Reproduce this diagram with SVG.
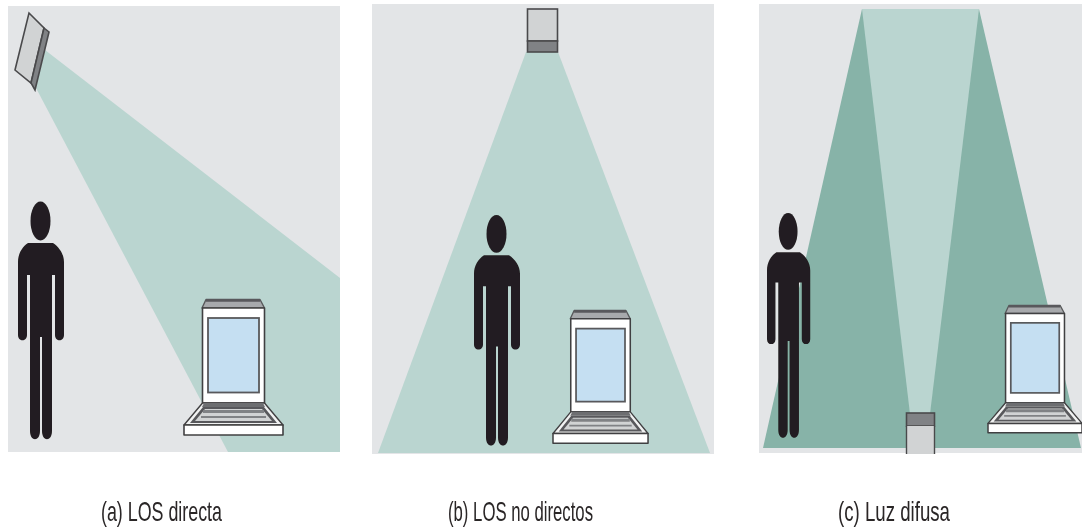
<svg xmlns="http://www.w3.org/2000/svg" width="1082" height="528" viewBox="0 0 1082 528">
<style>
.room{fill:#e3e5e7}
.beam{fill:#bad5d0}
.beamd{fill:#87b3a8}
.cap{font-family:"Liberation Sans",Arial,sans-serif;font-size:28px;fill:#2a2627}
.body{fill:#231f20}
.e1{fill:#d1d3d4;stroke:#4a4a4c;stroke-width:1.6}
.e2{fill:#808285;stroke:#4a4a4c;stroke-width:1.6}
.lw{fill:#fff;stroke:#414042;stroke-width:1.6;stroke-linejoin:round}
.lg{fill:#a7a9ac;stroke:#58595b;stroke-width:1.4;stroke-linejoin:round}
.scr{fill:#c5dff2;stroke:#58595b;stroke-width:1.8}
.key{fill:#f1f2f2;stroke:#414042;stroke-width:1.4;stroke-linejoin:round}
.kb{fill:#6d6e71}
</style>
<defs>
<filter id="soft" x="0" y="0" width="100%" height="100%"><feGaussianBlur stdDeviation="0.45"/></filter>
<g id="person">
<ellipse class="body" cx="40.5" cy="221" rx="10" ry="19.5"/>
<path class="body" d="M28 243H53C59 247 64 254 64 262V335C64 342 55 342 55 335V275H52V431C52 442 42 442 42 431V337H40V431C40 442 30 442 30 431V275H27V335C27 342 18 342 18 335V262C18 254 22 247 28 243Z"/>
</g>
<g id="laptop">
<path class="lg" d="M206 299.500H260L264.500 308H202Z"/>
<path d="M206 300.500H260" stroke="#58595b" stroke-width="2.500" fill="none"/>
<rect class="lw" x="202.500" y="308" width="62" height="95"/>
<rect class="scr" x="208" y="318" width="51" height="74.500"/>
<path class="key" d="M202.500 403H264.500L283 425H184Z"/>
<path class="kb" d="M204 403H263L265 407H202Z"/>
<path d="M203 407H264L277 423H190Z" fill="#58595b"/>
<path d="M205 409H262L272 421H195Z" fill="#d1d3d4"/>
<path d="M203 411.500H264" stroke="#808285" stroke-width="3" fill="none"/>
<path d="M201 417H266" stroke="#808285" stroke-width="2" fill="none"/>
<rect class="lw" x="184" y="425" width="99" height="10"/>
</g>
</defs>

<g filter="url(#soft)">
<g id="room-a"><rect class="room" x="8" y="6" width="332" height="446"/></g>
<g id="room-b"><rect class="room" x="372" y="4" width="342" height="450"/></g>
<g id="room-c"><rect class="room" x="759" y="4" width="323" height="449"/></g>

<g id="connectors">
<path class="beam" d="M45 50L340 278V452H228L36 88Z"/>
<path class="beam" d="M526 52H558L710 453H378Z"/>
<path class="beamd" d="M862 9L763 448H1081L979 9Z"/>
<path class="beam" d="M862 9H979L930 414H910Z"/>
</g>

<g id="emitter-a">
<path class="e1" d="M29 13L44 28L31 83L15 70Z"/>
<path class="e2" d="M44 28L49 32L35 90L31 83Z"/>
</g>
<g id="person-a"><use href="#person"/></g>
<g id="laptop-a"><use href="#laptop"/></g>
<g id="caption-a"><text class="cap" x="101" y="521" textLength="121" lengthAdjust="spacingAndGlyphs">(a) LOS directa</text></g>

<g id="emitter-b">
<rect class="e1" x="527.500" y="9" width="30" height="32"/>
<rect class="e2" x="527.500" y="41" width="30" height="11"/>
</g>
<g id="person-b"><use href="#person" transform="translate(474 215) scale(1 .97) translate(-18 -201.500)"/></g>
<g id="laptop-b"><use href="#laptop" transform="translate(553 310) scale(.96 .98) translate(-184 -299)"/></g>
<g id="caption-b"><text class="cap" x="448" y="521" textLength="145" lengthAdjust="spacingAndGlyphs">(b) LOS no directos</text></g>

<g id="emitter-c">
<rect class="e2" x="906.500" y="413" width="28" height="13"/>
<path d="M906.500 426V454H934.500V426Z" fill="#d1d3d4"/>
<path d="M906.500 426V454M934.500 426V454" stroke="#4a4a4c" stroke-width="1.400" fill="none"/>
</g>
<g id="person-c"><use href="#person" transform="translate(767 213) scale(.94 .945) translate(-18 -201.500)"/></g>
<g id="laptop-c"><use href="#laptop" transform="translate(988 305) scale(.95 .94) translate(-184 -299)"/></g>
<g id="caption-c"><text class="cap" x="838" y="521" textLength="112" lengthAdjust="spacingAndGlyphs">(c) Luz difusa</text></g>
</g>
</svg>
